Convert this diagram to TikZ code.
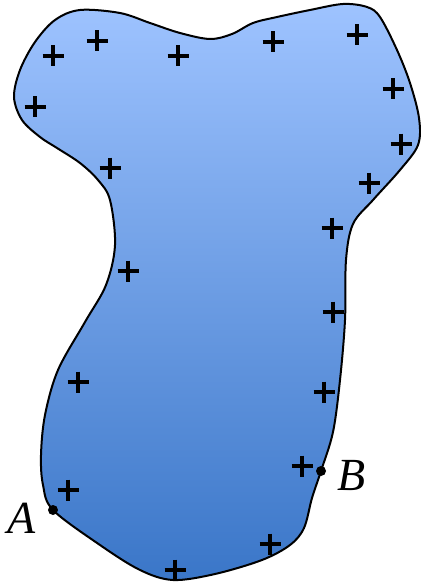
\documentclass[tikz,border=0pt]{standalone}
\usepackage{fontspec}
\setmainfont{Liberation Serif}
\begin{document}
\begin{tikzpicture}[x=1pt,y=-1pt,
  outline/.style={draw=black,line width=2pt,top color=blobtop,bottom color=blobbot},
  plusmark/.style={line width=3.2pt,black},
  dot/.style={circle,fill=black,inner sep=0pt,minimum size=10pt},
  lab/.style={font=\fontsize{46}{46}\selectfont\itshape,inner sep=0pt}]
\definecolor{blobtop}{RGB}{158,195,255}
\definecolor{blobbot}{RGB}{58,118,200}
\useasboundingbox (0,0) rectangle (420,583);
\draw[outline] plot[smooth cycle,tension=0.55] coordinates {
 (80,10) (120,13) (150,23) (180,33) (210,39) (232,34) (253,23) (277,17) (310,10)
 (343,4) (367,7) (380,17) (397,50) (410,83) (419,118) (418,145) (400,170) (373,200)
 (353,224) (346,260) (345,320) (340,380) (333,432) (321,471) (312,498) (304,528)
 (290,545) (262,560) (215,574) (173,580) (140,570) (100,545) (53,510) (43,485)
 (41,455) (45,415) (58,370) (85,322) (106,285) (115,245) (110,200) (98,180)
 (80,163) (57,148) (40,137) (22,120) (14,97) (20,70) (35,42) (55,20)};
\foreach \px/\py in {53/56,97/41,178/56,35/107,110/168,273/42,357/35,393/89,401/144,
  369/183,332/228,128/271,333/312,78/382,324/392,302/466,68/490,270/544,175/570}
  \draw[plusmark] (\px-10.5,\py) -- ++(21,0) (\px,\py-10.5) -- ++(0,21);
\node[dot] (A) at (53,510) {};
\node[dot] (B) at (321,471) {};
\node[lab] (labA) at (22,518) {A};
\node[lab] (labB) at (352,476) {B};
\end{tikzpicture}
\end{document}
